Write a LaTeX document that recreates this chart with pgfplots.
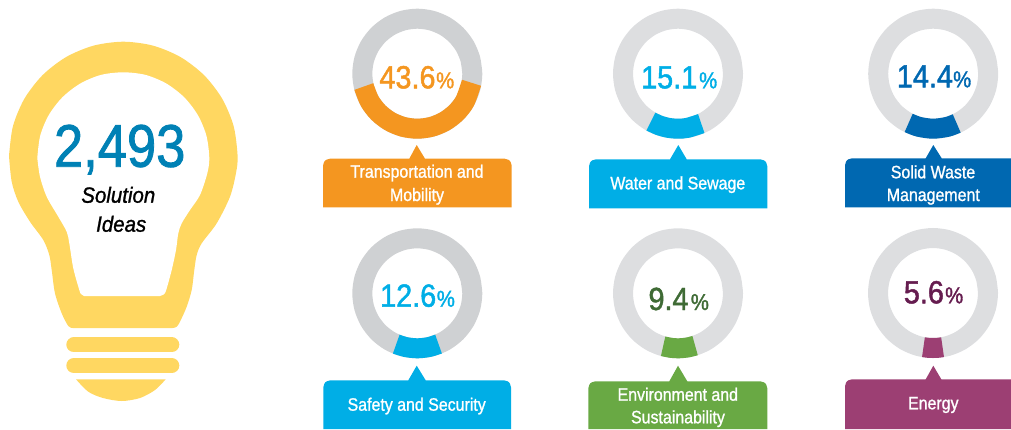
\documentclass[border=0pt]{standalone}
\usepackage{pgfplots}
\usepgfplotslibrary{polar}
\usepackage{fontspec}
\setmainfont{Liberation Sans}
\newfontfamily\medf[FakeBold=1.5]{Liberation Sans}
\newfontfamily\medl[FakeBold=1.2]{Liberation Sans}
\newfontfamily\medi[FakeBold=1.2]{Liberation Sans Italic}
\pgfplotsset{compat=1.18}
\definecolor{bulb}{HTML}{FFD761}
\definecolor{bulbnum}{HTML}{0081B5}
\definecolor{ringA}{HTML}{CFD1D3}
\definecolor{ringB}{HTML}{DDDEE0}
\definecolor{cOrange}{HTML}{F49620}
\definecolor{cCyan}{HTML}{00AEE6}
\definecolor{cBlue}{HTML}{0068B1}
\definecolor{cGreen}{HTML}{69A944}
\definecolor{tGreen}{HTML}{3F6B35}
\definecolor{cPurple}{HTML}{9C3F73}
\definecolor{tPurple}{HTML}{651C4F}
\pgfplotsset{
  donut/.style={at={(#1)},anchor=center,width=130pt,height=130pt,scale only axis,
    ymin=0,ymax=65,xmin=0,xmax=360,hide axis,clip=false},
  ringline/.style={no markers,smooth,line width=20pt,line cap=butt,draw=#1},
}
\newcommand{\ringdata}{(0,55)(15,55)(30,55)(45,55)(60,55)(75,55)(90,55)(105,55)(120,55)(135,55)(150,55)(165,55)(180,55)(195,55)(210,55)(225,55)(240,55)(255,55)(270,55)(285,55)(300,55)(315,55)(330,55)(345,55)(360,55)(375,55)}
% number and percent sign, placed by their baseline
\newcommand{\pct}[6]{%
  \node[anchor=base west,inner sep=0pt,text=#5,xscale=.9] at (axis cs:#1,#3) {\fontsize{32}{32}\selectfont\medf #4};
  \node[anchor=base west,inner sep=0pt,text=#5,xscale=.88] at (axis cs:#2,#3) {\fontsize{23}{23}\selectfont\medf\%};
}
\newcommand{\lab}[3]{%
  \node[anchor=base,inner sep=0pt,text=white,xscale=.885] at (axis cs:#1,#2) {\fontsize{18}{18}\selectfont\medl #3};
}
\begin{document}
\begin{tikzpicture}
\path[use as bounding box] (0,0) rectangle (1011pt,429pt);
\begin{axis}[name=main,at={(0,0)},anchor=south west,width=1011pt,height=429pt,scale only axis,xmin=0,xmax=1011,ymin=0,ymax=429,y dir=reverse,hide axis,clip=true]
% bulb
\addplot[draw=none,fill=bulb,smooth,tension=0.5] coordinates {
(9,156)(12.9,126.4)(24.3,98.9)(42.5,75.2)(66.2,57)(93.7,45.6)(123.3,41.7)(152.9,45.6)(180.4,57)(204.1,75.2)(222.3,98.9)(233.7,126.4)(237.6,156)
(236,173)(230,196.7)(216.7,223.3)(201.7,243.3)(196.7,255)(194.3,270)(191.7,290)(186.7,306.7)(180,321.7)(176.7,326.7)(172.7,328)(168,328)(120,328)(77,328)(72.7,328)(68.3,326)(61.7,313.3)(55,293.3)(51.7,270)(49.3,255)(43.3,240)(30,221.7)(18.3,201.7)(11.7,181.7)(9,156)} -- cycle;
\addplot[draw=none,fill=white,smooth,tension=0.5] coordinates {
(37.3,158)(40.2,135.7)(48.8,115)(62.5,97.2)(80.3,83.5)(101,74.9)(123.3,72.3)(145.6,74.9)(166.3,83.5)(184.1,97.2)(197.8,115)(206.4,135.7)(209.3,158)
(207.3,173.3)(200,195)(190,210)(181.7,223.3)(178.3,233.3)(176,250)(171.7,270)(166,290.7)(163.3,294.7)(160,296)(156,296)(120,296)(88,296)(84,296)(81,294)(79.3,290)(73.3,268.3)(69.3,243.3)(66.7,231.7)(58.3,216.7)(46.7,196.7)(40,176.7)(37.3,158)} -- cycle;
\addplot[draw=bulb,line width=15pt,line cap=round] coordinates {(73.8,344.8)(171.8,344.8)};
\addplot[draw=bulb,line width=15pt,line cap=round] coordinates {(73.8,365.6)(171.8,365.6)};
\addplot[draw=none,fill=bulb,smooth,tension=0.5] coordinates {(76,379.3)(88.3,391.7)(103,398)(121.7,401)(140,398)(155,390)(165.7,379.3)} -- cycle;
\node[anchor=base,inner sep=0pt,text=bulbnum,xscale=.875] at (axis cs:119.7,166.7) {\fontsize{60}{60}\selectfont\medf 2,493};
\node[anchor=base,inner sep=0pt,xscale=.93] at (axis cs:118.3,202.7) {\fontsize{22}{22}\selectfont\medi Solution};
\node[anchor=base,inner sep=0pt,xscale=.93] at (axis cs:121.2,231.7) {\fontsize{22}{22}\selectfont\medi Ideas};
% callouts
\addplot[draw=none,fill=cOrange] coordinates {(323,207.3)(323,165.7)(324,162.2)(325,160.7)(326.5,159.7)(330,158.7)(409.3,158.7)(416.7,145)(425,158.7)(504.7,158.7)(508.2,159.7)(509.7,160.7)(510.7,162.2)(511.7,165.7)(511.7,207.3)} -- cycle;
\addplot[draw=none,fill=cCyan] coordinates {(589,208.3)(589,166.3)(590,162.8)(591,161.3)(592.5,160.3)(596,159.3)(670,159.3)(678.3,145)(686.7,159.3)(760.3,159.3)(763.8,160.3)(765.3,161.3)(766.3,162.8)(767.3,166.3)(767.3,208.3)} -- cycle;
\addplot[draw=none,fill=cBlue] coordinates {(845,207.3)(845,165.3)(846,161.8)(847,160.3)(848.5,159.3)(852,158.3)(925.7,158.3)(933.3,145)(941.7,158.3)(1011,158.3)(1011,207.3)} -- cycle;
\addplot[draw=none,fill=cCyan] coordinates {(323.3,429)(323.3,387.3)(324.3,383.8)(325.3,382.3)(326.8,381.3)(330.3,380.3)(408.3,380.3)(416.7,365.7)(425.7,380.3)(504,380.3)(507.5,381.3)(509,382.3)(510,383.8)(511,387.3)(511,429)} -- cycle;
\addplot[draw=none,fill=cGreen] coordinates {(588.3,429)(588.3,388.3)(589.3,384.8)(590.3,383.3)(591.8,382.3)(595.3,381.3)(669.3,381.3)(678,365.7)(687.3,381.3)(760.3,381.3)(763.8,382.3)(765.3,383.3)(766.3,384.8)(767.3,388.3)(767.3,429)} -- cycle;
\addplot[draw=none,fill=cPurple] coordinates {(845,429)(845,386.3)(846,382.8)(847,381.3)(848.5,380.3)(852,379.3)(925.7,379.3)(933.3,365.7)(941.3,379.3)(1011,379.3)(1011,429)} -- cycle;
% percentages
\pct{379.3}{436}{88.3}{43.6}{cOrange}{}
\pct{641}{699}{88.3}{15.1}{cCyan}{}
\pct{896.7}{953}{87.3}{14.4}{cBlue}{}
\pct{380}{436.7}{306.7}{12.6}{cCyan}{}
\pct{648.3}{690.7}{310}{9.4}{tGreen}{}
\pct{903.7}{945}{303.3}{5.6}{tPurple}{}
% labels
\lab{417}{177.7}{Transportation and}
\lab{417}{201}{Mobility}
\lab{677.8}{189.3}{Water and Sewage}
\lab{933}{178.3}{Solid Waste}
\lab{933.3}{201}{Management}
\lab{416.7}{410.7}{Safety and Security}
\lab{677.8}{400.7}{Environment and}
\lab{678}{423.3}{Sustainability}
\lab{933.3}{409.3}{Energy}
\end{axis}
% donuts
\begin{polaraxis}[donut={417.3pt,355.3pt}]
\addplot[ringline=ringA] coordinates {\ringdata};
\addplot[ringline=cOrange] coordinates {(193.5,55)(210,55)(225,55)(240,55)(255,55)(270,55)(285,55)(300,55)(315,55)(330,55)(350.5,55)};
\end{polaraxis}
\begin{polaraxis}[donut={678pt,355.3pt}]
\addplot[ringline=ringB] coordinates {\ringdata};
\addplot[ringline=cCyan] coordinates {(240.5,55)(250,55)(260,55)(270,55)(280,55)(295,55)};
\end{polaraxis}
\begin{polaraxis}[donut={933.2pt,355.3pt}]
\addplot[ringline=ringB] coordinates {\ringdata};
\addplot[ringline=cBlue] coordinates {(243.5,55)(255,55)(270,55)(285,55)(295.3,55)};
\end{polaraxis}
\begin{polaraxis}[donut={417.3pt,135.7pt}]
\addplot[ringline=ringA] coordinates {\ringdata};
\addplot[ringline=cCyan] coordinates {(247.5,55)(258,55)(270,55)(282,55)(292.7,55)};
\end{polaraxis}
\begin{polaraxis}[donut={678pt,135.7pt}]
\addplot[ringline=ringB] coordinates {\ringdata};
\addplot[ringline=cGreen] coordinates {(254.3,55)(263,55)(271,55)(280,55)(288.1,55)};
\end{polaraxis}
\begin{polaraxis}[donut={933pt,136pt}]
\addplot[ringline=ringB] coordinates {\ringdata};
\addplot[ringline=cPurple] coordinates {(260,55)(265,55)(270,55)(275,55)(280,55)};
\end{polaraxis}
\end{tikzpicture}
\end{document}
